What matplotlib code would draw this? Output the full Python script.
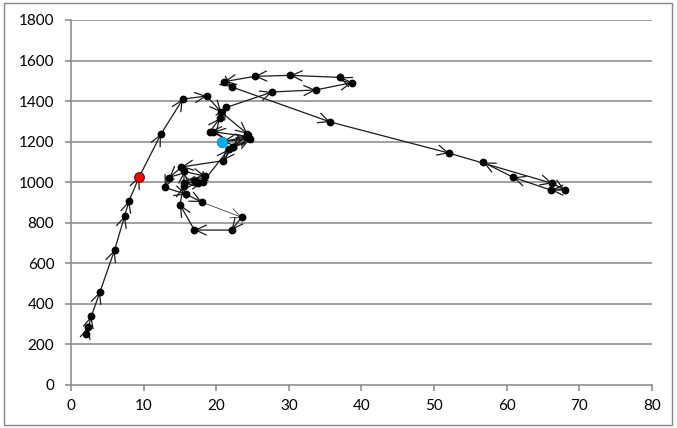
import matplotlib
matplotlib.use("Agg")
import matplotlib.pyplot as plt
from matplotlib.patches import Rectangle

# Trajectory, in time order (x, y)
path_x = [2.1, 2.4, 2.8, 4.0, 6.0, 7.4, 8.0, 9.4, 12.4, 15.4, 18.7, 20.7,
          24.3, 22.3, 20.9, 15.2, 13.5, 12.9, 15.9, 18.0, 23.5, 22.1, 17.0,
          15.0, 15.5, 15.6, 18.5, 17.1, 15.5, 17.5, 18.2, 21.7, 24.4, 22.3,
          24.7, 20.8, 24.3, 19.6, 19.1, 20.5, 21.4, 27.7, 33.7, 38.7, 37.0,
          30.2, 25.3, 21.1, 22.2, 35.7, 52.1, 66.3, 68.0, 66.1, 60.9, 56.8]
path_y = [250, 287, 340, 460, 666, 835, 909, 1027, 1238, 1410, 1425, 1345,
          1238, 1172, 1106, 1075, 1021, 974, 940, 902, 827, 764, 764,
          889, 981, 1053, 1029, 1004, 996, 997, 1002, 1162, 1233, 1175,
          1213, 1200, 1225, 1249, 1249, 1315, 1369, 1445, 1455, 1491, 1517,
          1527, 1522, 1496, 1469, 1297, 1143, 994, 961, 961, 1024, 1098]

# highlighted points
red_pt = (9.4, 1027)
blue_pt = (20.8, 1200)

x_ticks = [0, 10, 20, 30, 40, 50, 60, 70, 80]
y_ticks = [0, 200, 400, 600, 800, 1000, 1200, 1400, 1600, 1800]

plt.rcParams["font.family"] = ["Lato", "DejaVu Sans"]

fig = plt.figure(figsize=(6.77, 4.28), dpi=100)
ax = fig.add_axes([0.1049, 0.1005, 0.8581, 0.8528])

grey = "#868686"
for yv in y_ticks[1:]:
    ax.axhline(yv, color=grey, lw=1.1, zorder=1)

# segments with open arrowheads at each end point
for i in range(len(path_x) - 1):
    lw = 0.5 if (path_x[i], path_y[i]) == (18.0, 902) else 0.9
    ax.annotate("", xy=(path_x[i + 1], path_y[i + 1]),
                xytext=(path_x[i], path_y[i]),
                arrowprops=dict(arrowstyle="->,head_length=0.75,head_width=0.36",
                                color="#1a1a1a", lw=lw,
                                shrinkA=0, shrinkB=0),
                zorder=3)

ax.plot(path_x, path_y, ls="none", marker="o", ms=4.6, color="black", zorder=4)
ax.plot(*red_pt, marker="o", ms=7, mfc="#ff0000", mec="#5a1010", mew=0.8,
        zorder=5)
ax.plot(*blue_pt, marker="o", ms=7.5, mfc="#00b0f0", mec="#0a7fb0", mew=0.6,
        zorder=5)

ax.set_xlim(0, 80)
ax.set_ylim(0, 1800)
ax.set_xticks(x_ticks)
ax.set_yticks(y_ticks)
for s in ["top", "right"]:
    ax.spines[s].set_visible(False)
for s in ["left", "bottom"]:
    ax.spines[s].set_color(grey)
    ax.spines[s].set_linewidth(1.1)
ax.tick_params(direction="out", length=4, width=1.1, color=grey,
               labelsize=11, labelcolor="black")
ax.tick_params(axis="x", pad=6)
ax.tick_params(axis="y", pad=8)

# outer chart border
fig.patches.append(Rectangle((0.006, 0.007), 0.987, 0.986,
                             transform=fig.transFigure, fill=False,
                             edgecolor=grey, lw=1.0))

fig.savefig("out.png", dpi=100)
